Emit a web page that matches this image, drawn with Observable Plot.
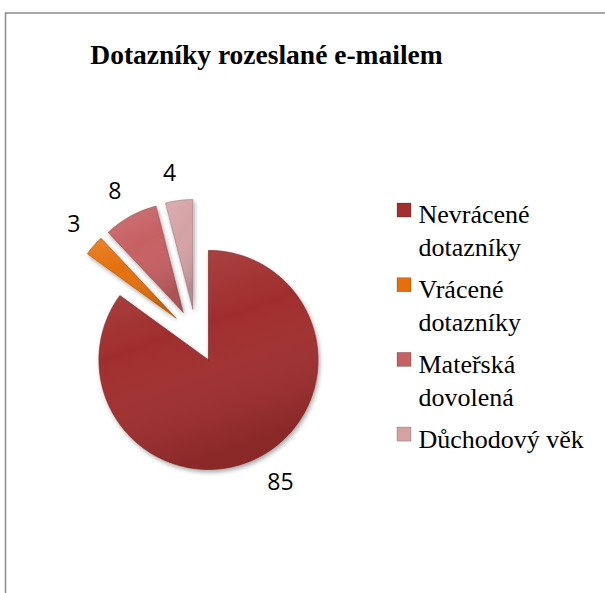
<!DOCTYPE html>
<html><head><meta charset="utf-8">
<script src="https://cdn.jsdelivr.net/npm/d3@7"></script>
<script src="https://cdn.jsdelivr.net/npm/@observablehq/plot@0.6"></script>
<style>body{margin:0;background:#fff;} svg{display:block}</style>
</head><body><div id="chart"></div>
<script>
const title = "Dotazníky rozeslané e-mailem";
const categories = ["Nevrácené dotazníky", "Vrácené dotazníky", "Mateřská dovolená", "Důchodový věk"];
const values = [85, 3, 8, 4];
const colors = ["#A12F2F", "#E46F0C", "#C66064", "#D4A2A5"];
const legendLabels = ["Nevrácené\ndotazníky", "Vrácené\ndotazníky", "Mateřská\ndovolená", "Důchodový věk"];

const W = 605, H = 593;
const cx = 195.7, cy = 335.4, R = 109.5, explode = 27;

const arcs = d3.pie().sort(null).value(d => d)(values);
const polar = (a, r, ox, oy) => [ox + r * Math.sin(a), oy - r * Math.cos(a)];
const slicePts = [];
const labels = [];
arcs.forEach((a, i) => {
  const mid = (a.startAngle + a.endAngle) / 2;
  const [vx, vy] = polar(mid, explode, cx, cy);
  const cat = categories[i];
  slicePts.push({cat, x: vx, y: vy});
  const n = Math.max(4, Math.ceil((a.endAngle - a.startAngle) / (Math.PI / 360)));
  for (let k = 0; k <= n; k++) {
    const t = a.startAngle + (a.endAngle - a.startAngle) * k / n;
    const [x, y] = polar(t, R, vx, vy);
    slicePts.push({cat, x, y});
  }
  slicePts.push({cat, x: vx, y: vy});
  const [ax, ay] = polar(mid, R + 17, vx, vy);
  const txt = String(values[i]);
  const hw = txt.length * 7.3, hh = 9.5;
  labels.push({text: txt, x: ax + Math.sign(Math.sin(mid)) * hw, y: ay + Math.sign(-Math.cos(mid)) * hh});
});

const legendStep = 74.7, legendTop = 203;
const legendRows = categories.map((c, i) => ({cat: c, label: legendLabels[i], y: legendTop + i * legendStep}));

const defs = () => {
  const d = d3.create("svg:defs");
  const f = d.append("filter").attr("id", "sh").attr("x", "-20%").attr("y", "-20%").attr("width", "150%").attr("height", "150%");
  f.append("feDropShadow").attr("dx", 1.5).attr("dy", 2.5).attr("stdDeviation", 2.2).attr("flood-color", "#000").attr("flood-opacity", 0.35);
  const g = d.append("linearGradient").attr("id", "shade").attr("x1", 0).attr("y1", 0).attr("x2", 0.35).attr("y2", 1);
  g.append("stop").attr("offset", "0%").attr("stop-color", "#fff").attr("stop-opacity", 0.14);
  g.append("stop").attr("offset", "45%").attr("stop-color", "#fff").attr("stop-opacity", 0.0);
  g.append("stop").attr("offset", "100%").attr("stop-color", "#000").attr("stop-opacity", 0.14);
  return d.node();
};

const chart = Plot.plot({
  width: W, height: H, margin: 0,
  x: {domain: [0, W], range: [0, W], axis: null},
  y: {domain: [0, H], range: [0, H], axis: null},
  color: {domain: categories, range: colors},
  style: {background: "white"},
  marks: [
    defs,
    Plot.ruleY([12.5], {x1: 5, x2: W, stroke: "#8a8a8a", strokeWidth: 1.5}),
    Plot.ruleX([5], {y1: 12.5, y2: H, stroke: "#8a8a8a", strokeWidth: 1.5}),
    Plot.text([title], {x: 266, y: 63 - 0.71 * 27.5, text: d => d, lineAnchor: "top", fontSize: 27.5, fontWeight: "bold", fontFamily: "Liberation Serif", fill: "black"}),
    Plot.line(slicePts, {x: "x", y: "y", z: "cat", fill: "cat", stroke: "cat", strokeWidth: 0.6, curve: "linear"}),
    Plot.line(slicePts, {x: "x", y: "y", z: "cat", fill: "url(#shade)", stroke: "#00000030", strokeWidth: 0.8, curve: "linear"}),
    Plot.text(labels, {x: "x", y: "y", text: "text", fontSize: 23, fontFamily: "Open Sans", fill: "black", textAnchor: "middle", lineAnchor: "middle"}),
    Plot.rect(legendRows, {x1: 397, x2: 411, y1: "y", y2: d => d.y + 14, fill: "cat", stroke: "#00000055", strokeWidth: 0.6}),
    Plot.text(legendRows, {x: 418, y: d => d.y - 3.5, text: "label", textAnchor: "start", lineAnchor: "top", fontSize: 26, lineHeight: 1.27, fontFamily: "Liberation Serif", fill: "black"})
  ]
});
d3.select(chart).selectAll('g[aria-label="line"]').filter((d, i) => i === 0).attr("filter", "url(#sh)");
document.getElementById("chart").appendChild(chart);
</script>
</body></html>
